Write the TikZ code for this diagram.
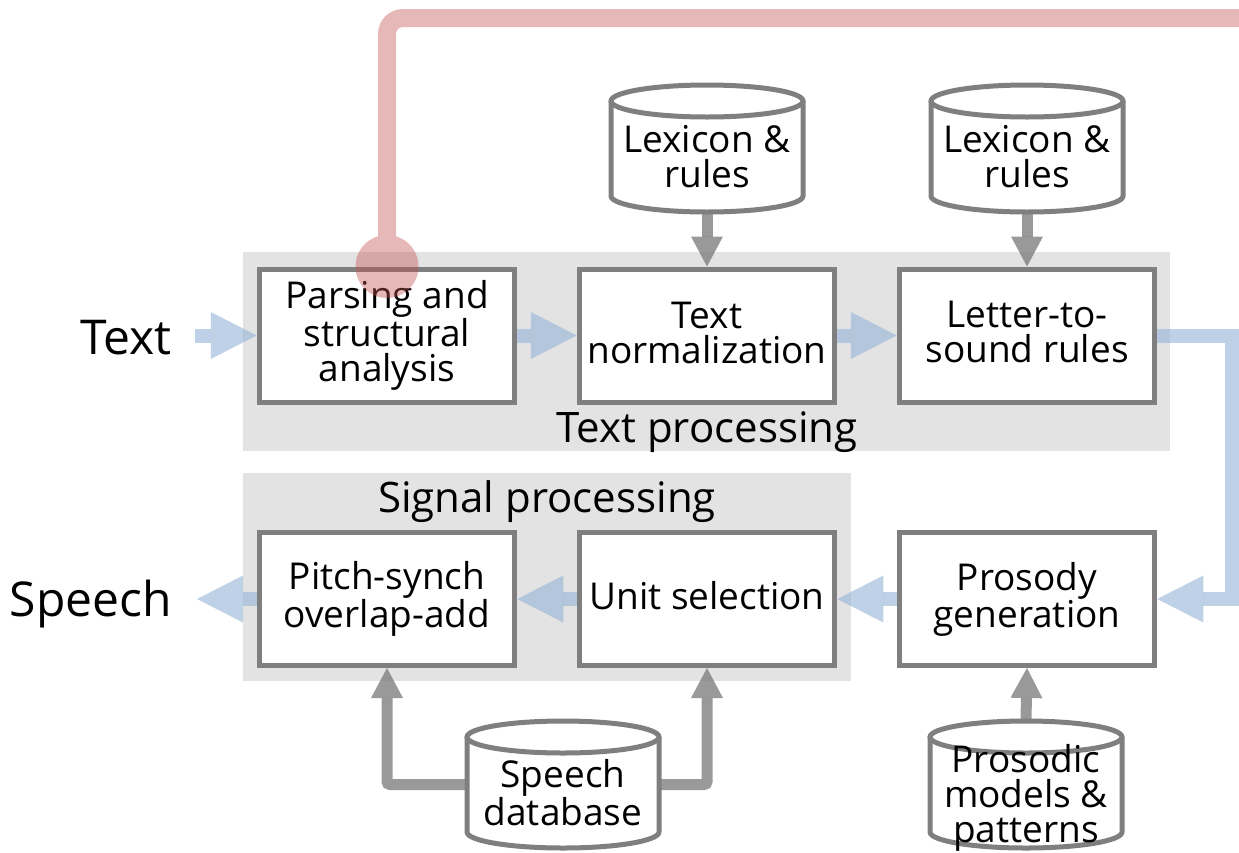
\documentclass[tikz,border=0pt]{standalone}
\usepackage{fontspec}
\setmainfont{Open Sans}
\usetikzlibrary{arrows.meta}
\definecolor{panel}{HTML}{E3E3E3}
\definecolor{edge}{HTML}{7F7F7F}
\definecolor{flow}{HTML}{95B3D7}
\definecolor{ctrl}{HTML}{C0504D}
\definecolor{feed}{HTML}{808080}
\newcommand{\drum}[5]{%
  \node[minimum width=192pt, minimum height=127pt, inner sep=0pt] (#1) at (#2,#3+63.5) {};
  \path[fill=white] (#2-96,#3+16) -- (#2-96,#3+111) arc[start angle=180,end angle=360,x radius=96pt,y radius=16pt]
     -- (#2+96,#3+16) arc[start angle=0,end angle=180,x radius=96pt,y radius=16pt] -- cycle;
  \draw[edge, line width=5pt, line join=round] (#2-96,#3+16) -- (#2-96,#3+111) arc[start angle=180,end angle=360,x radius=96pt,y radius=16pt] -- (#2+96,#3+16);
  \draw[edge, line width=5pt] (#2,#3+16) ellipse[x radius=96pt,y radius=16pt];
  \node[boxtext, align=center] at ([yshift=-#5pt]#1.center) {#4};
}
\begin{document}
\begin{tikzpicture}[x=1pt,y=-1pt,
  boxtext/.style={font=\fontsize{37}{35}\selectfont, inner sep=0pt},
  stage/.style={draw=edge, line width=5pt, fill=white, minimum width=255.5pt, minimum height=133pt, align=center, inner sep=0pt, boxtext},
  panelbox/.style={fill=panel, draw=none},
  flowline/.style={draw=flow, opacity=0.6, line width=14pt, -{Triangle[length=46pt,width=47pt,line width=0pt]}},
  feedline/.style={draw=feed, opacity=0.8, line width=11pt, -{Triangle[length=30pt,width=32pt,line width=0pt]}},
  biglabel/.style={font=\fontsize{48}{48}\selectfont, inner sep=0pt},
  grouplabel/.style={font=\fontsize{42}{42}\selectfont, inner sep=0pt}
]
\useasboundingbox (0,0) rectangle (1239,852);
% panels
\fill[panelbox] (243,252) rectangle (1170,451);
\fill[panelbox] (243,473) rectangle (851,681);
\node[grouplabel] (tproc) at (707,432) {Text processing};
\node[grouplabel] (sproc) at (547,502) {Signal processing};
% stages
\node[stage] (parse) at (387,335.5) {Parsing and\\structural\\analysis};
\node[stage] (norm) at (707,335.5) {};
\node[boxtext, align=center] at ([yshift=3pt]norm.center) {Text\\normalization};
\node[stage] (lts) at (1027,335.5) {};
\node[boxtext, align=center] at ([yshift=3.5pt]lts.center) {Letter-to-\\sound rules};
\node[stage] (psola) at (387,599) {Pitch-synch\\overlap-add};
\node[stage] (unit) at (707,599) {};
\node[boxtext] at ([yshift=3pt]unit.center) {Unit selection};
\node[stage] (prosody) at (1027,599) {Prosody\\generation};
% databases
\drum{lexA}{707}{85}{Lexicon \&\\rules}{8}
\drum{lexB}{1027}{85}{Lexicon \&\\rules}{8}
\drum{sdb}{563}{721}{Speech\\database}{8}
\drum{pdb}{1026}{721}{Prosodic\\models \&\\patterns}{13}
% outer labels
\node[biglabel, anchor=east] (txt) at (172,338) {Text};
\node[biglabel, anchor=east] (spc) at (172,604) {Speech};
\coordinate (tin) at (195,335.5);
\coordinate (sout) at (197,599);
\coordinate (turn) at (1232,470);
% flow arrows
\draw[flowline] (tin) -- (parse.west);
\draw[flowline] (parse.east) -- (norm.west);
\draw[flowline] (norm.east) -- (lts.west);
\draw[flowline, line join=miter] (lts.east) -| (turn) |- (prosody.east);
\draw[flowline] (prosody.west) -- (unit.east);
\draw[flowline] (unit.west) -- (psola.east);
\draw[flowline] (psola.west) -- (sout);
% feed arrows
\draw[feedline] (lexA.south) -- (norm.north);
\draw[feedline] (lexB.south) -- (lts.north);
\draw[feedline] (pdb.north) -- (prosody.south);
\draw[feedline, rounded corners=3pt] (sdb.west) -| (psola.south);
\draw[feedline, rounded corners=3pt] (sdb.east) -| (unit.south);
% control line
\begin{scope}[transparency group, opacity=0.4]
\draw[ctrl, line width=18pt, rounded corners=16pt] (parse.north) -- (387,18) -- (1270,18);
\fill[ctrl] (parse.north) circle[radius=31.5pt];
\end{scope}
\end{tikzpicture}
\end{document}
